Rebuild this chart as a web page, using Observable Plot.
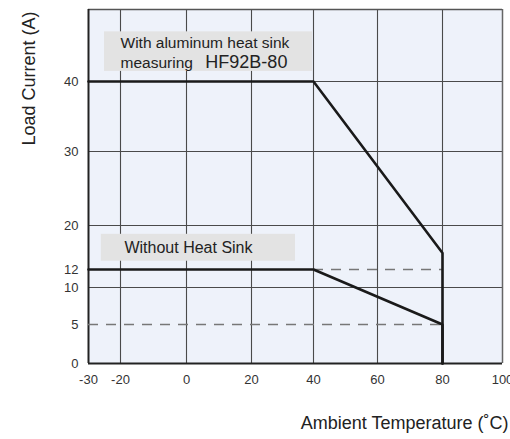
<!DOCTYPE html>
<html>
<head>
<meta charset="utf-8">
<script src="https://cdn.jsdelivr.net/npm/d3@7"></script>
<script src="https://cdn.jsdelivr.net/npm/@observablehq/plot@0.6"></script>
<style>
  html, body { margin: 0; padding: 0; background: #ffffff; }
</style>
</head>
<body>
<div id="chart"></div>
<script>
// ---- data ----
const temps = [-30, 40, 80, 80];
const currentWithSink = [40, 40, 15, 0];
const currentWithoutSink = [12, 12, 5, 0];

const xTicks = [-30, -20, 0, 20, 40, 60, 80, 100];
const yTicks = [0, 5, 10, 12, 20, 30, 40];
const xGrid = [-20, 0, 20, 40, 60, 80];
const yGrid = [10, 20, 30, 40];

const dashY = [12, 5];
const dashFrom = [40, -30];
const dashTo = [80, 80];

const boxX1 = [-25, -26];
const boxX2 = [39.7, 34.2];
const boxY1 = [41.4, 13.5];
const boxY2 = [46.9, 18.4];

const labelTexts = ["With aluminum heat sink", "measuring", "HF92B-80", "Without Heat Sink"];
const labelX = [-20, -20, 5.8, -18.8];
const labelY = [45.4, 42.6, 42.7, 15.9];
const labelSize = [15.5, 15.5, 18, 16];

const yTitle = "Load Current (A)";
const xTitle = "Ambient Temperature (\u02DAC)";

// ---- tables built from the arrays ----
const withSink = temps.map((t, i) => ({t, a: currentWithSink[i]}));
const withoutSink = temps.map((t, i) => ({t, a: currentWithoutSink[i]}));
const dashes = dashY.map((y, i) => ({y, x1: dashFrom[i], x2: dashTo[i]}));
const boxes = boxX1.map((x1, i) => ({x1, x2: boxX2[i], y1: boxY1[i], y2: boxY2[i]}));
const labels = labelTexts.map((text, i) => ({text, x: labelX[i], y: labelY[i], size: labelSize[i]}));

// the printed axes are not evenly spaced: piecewise-linear warps
const xWarp = d3.scaleLinear()
  .domain([-30, -20, 0, 20, 40, 60, 80, 100])
  .range([0, 32, 98, 163, 225, 289, 354, 414]);
const yWarp = d3.scaleLinear()
  .domain([0, 5, 10, 12, 20, 30, 40, 50])
  .range([0, 39, 76, 94, 138, 212, 282, 354]);

const font = "'Liberation Sans', Arial, Helvetica, sans-serif";

const chart = Plot.plot({
  width: 510,
  height: 439,
  marginLeft: 88,
  marginRight: 8,
  marginTop: 9,
  marginBottom: 76,
  style: {fontFamily: font, fontSize: "13px", color: "#333", background: "#ffffff"},
  x: {transform: xWarp, domain: [0, 414], axis: null},
  y: {transform: yWarp, domain: [0, 354], axis: null},
  marks: [
    Plot.frame({fill: "#eef2fa", stroke: null}),
    Plot.ruleX(xGrid, {stroke: "#4a4a4a", strokeWidth: 1.1}),
    Plot.ruleY(yGrid, {stroke: "#4a4a4a", strokeWidth: 1.1}),
    Plot.rect(boxes, {x1: "x1", x2: "x2", y1: "y1", y2: "y2", fill: "#e3e3e3"}),
    Plot.ruleX([100], {stroke: "#666", strokeWidth: 1.5}),
    Plot.ruleY([50], {stroke: "#555", strokeWidth: 1.5}),
    Plot.ruleX([-30], {stroke: "#222", strokeWidth: 2}),
    Plot.ruleY([0], {stroke: "#222", strokeWidth: 2}),
    Plot.ruleY(dashes, {y: "y", x1: "x1", x2: "x2", stroke: "#777", strokeWidth: 1.3, strokeDasharray: "10,8"}),
    Plot.line(withSink, {x: "t", y: "a", stroke: "#1a1a1a", strokeWidth: 2.6, strokeLinejoin: "miter"}),
    Plot.line(withoutSink, {x: "t", y: "a", stroke: "#1a1a1a", strokeWidth: 2.6, strokeLinejoin: "miter"}),
    // tick labels (drawn as text so they follow the warped scales)
    Plot.text(xTicks, {x: d => d, frameAnchor: "bottom", lineAnchor: "top", dy: 11, text: d => String(d), fill: "#333", fontSize: 13, fontFamily: font}),
    Plot.text(yTicks, {y: d => d, frameAnchor: "left", textAnchor: "end", dx: -10, text: d => String(d), fill: "#333", fontSize: 13, fontFamily: font}),
    Plot.text(labels, {x: "x", y: "y", text: "text", fontSize: "size", textAnchor: "start", fill: "#222", fontFamily: font}),
    Plot.text([yTitle], {frameAnchor: "top-left", dx: -66, dy: 69, rotate: -90, textAnchor: "middle", fontSize: 18, fill: "#222", fontFamily: font}),
    Plot.text([xTitle], {frameAnchor: "bottom-right", dx: 6, dy: 65, textAnchor: "end", fontSize: 18, fill: "#222", fontFamily: font})
  ]
});

document.getElementById("chart").appendChild(chart);
</script>
</body>
</html>
